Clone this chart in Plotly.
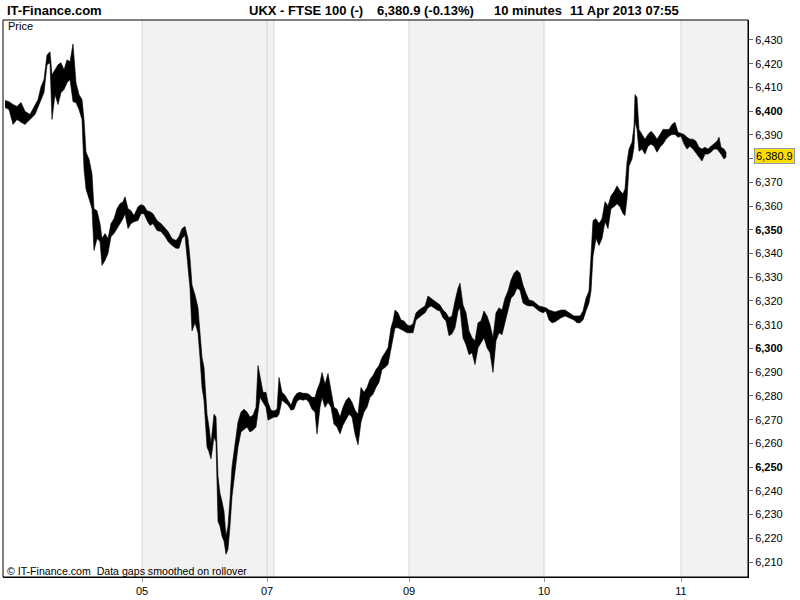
import plotly.graph_objects as go

# ---------------- data (10-minute bars, grouped high/low readings) ----------------
bars = [2, 6, 10, 14, 18, 22, 27, 32, 35, 38, 41, 44, 47, 49, 52, 55, 58, 61, 64, 67, 70, 73, 76, 79, 81, 83, 86, 89, 91, 94,
        97, 99, 102, 105, 108, 111, 114, 117, 120, 122, 125, 128, 131, 135, 138,
        141, 144, 147, 150, 154, 158, 162, 165, 169, 173, 176, 179, 182, 185, 187, 189, 192, 195, 197, 199,
        201, 204, 206, 208, 211, 213, 215, 217, 219, 221, 223, 225, 227, 229, 231, 233, 235, 238, 241, 244,
        247, 250, 253, 255, 257, 260, 263, 265, 268, 271,
        274, 276, 279, 282, 285, 288, 291, 294, 297, 300, 303, 306, 309, 312, 314, 317, 319, 322, 325, 328,
        331, 334, 337, 340, 343, 346, 349, 352, 355, 358, 361, 364, 367, 370, 373, 376, 379, 382, 385, 388,
        390, 392, 395, 398, 401, 404, 407,
        410, 413, 416, 419, 422, 425, 428, 431, 434, 437, 440, 443, 446, 449, 452, 455, 457, 460, 463, 466,
        469, 472, 475, 478, 481, 484, 487, 490, 493, 496, 499, 502, 505, 508, 511, 514, 517, 520, 523, 526,
        530, 536, 540,
        543, 546, 549, 552, 555, 558, 562, 567, 571, 574, 577, 580, 583, 586, 588, 590, 593, 596, 599, 602,
        605, 608, 611, 614, 617, 620, 622, 624, 626, 629, 631, 632, 634, 636, 639, 642, 645, 648, 651, 654,
        657, 660, 663, 666, 669, 672, 675, 678,
        681, 684, 687, 690, 693, 696, 699, 702, 705, 708, 711, 714, 716, 718, 721, 723]

highs = [6404.5, 6404.0, 6402.8, 6402.0, 6403.6, 6399.9, 6398.6, 6402.8, 6404.9, 6410.3, 6413.3, 6423.7, 6425.0, 6415.3,
         6417.4, 6419.5, 6420.4, 6417.4, 6421.6, 6420.8, 6428.3, 6412.0, 6407.0, 6404.9, 6396.5, 6382.7, 6379.8, 6373.5,
         6358.9, 6358.0, 6352.6, 6346.3, 6348.4, 6346.3, 6352.6, 6354.7, 6358.9, 6361.0, 6361.8, 6363.9, 6358.9, 6358.0,
         6356.0, 6359.7, 6360.6,
         6360.1, 6358.0, 6357.6, 6356.8, 6353.9, 6352.6, 6350.5, 6349.3, 6346.3, 6345.5, 6347.2, 6350.5, 6351.4, 6346.3,
         6338.0, 6326.7, 6322.5, 6317.1, 6306.6, 6296.2, 6292.0, 6272.3, 6266.9, 6259.8, 6272.3, 6271.1, 6246.0, 6238.9,
         6235.5, 6231.3, 6220.9, 6225.1, 6236.4, 6250.2, 6256.4, 6262.7, 6269.0, 6273.2, 6274.4, 6273.2, 6271.1, 6271.9,
         6275.2, 6292.8, 6287.8, 6281.5, 6281.5, 6277.3, 6274.0, 6273.6,
         6274.4, 6287.8, 6281.5, 6280.3, 6278.2, 6276.1, 6279.4, 6281.1, 6281.5, 6281.1, 6281.1, 6280.7, 6279.4, 6279.4,
         6282.4, 6285.7, 6289.9, 6284.9, 6289.5, 6281.5, 6275.2, 6274.4, 6271.1, 6275.2, 6278.2, 6279.4, 6277.3, 6274.0,
         6272.3, 6283.6, 6281.5, 6283.6, 6287.0, 6288.6, 6291.1, 6292.8, 6296.2, 6298.2, 6300.3, 6308.7, 6311.6, 6316.2,
         6315.0, 6312.0, 6311.6, 6310.0, 6309.5,
         6310.4, 6315.0, 6316.2, 6317.1, 6317.9, 6322.1, 6321.2, 6320.0, 6319.2, 6318.3, 6316.2, 6315.0, 6312.9, 6313.7,
         6320.0, 6325.4, 6327.5, 6318.3, 6315.0, 6307.4, 6304.5, 6303.3, 6310.8, 6311.6, 6315.8, 6313.7, 6310.0, 6304.5,
         6315.0, 6317.1, 6316.2, 6321.2, 6324.2, 6328.8, 6331.7, 6333.0, 6331.7, 6326.7, 6323.3, 6320.4, 6320.0, 6317.9,
         6317.5,
         6317.1, 6316.2, 6315.8, 6315.4, 6315.8, 6316.2, 6316.2, 6315.0, 6313.7, 6313.7, 6313.7, 6315.8, 6321.2, 6324.2,
         6338.8, 6353.9, 6354.7, 6352.6, 6354.7, 6361.8, 6360.1, 6364.3, 6366.0, 6368.5, 6366.4, 6365.2, 6367.2, 6378.5,
         6384.0, 6386.9, 6393.6, 6407.0, 6405.7, 6392.3, 6390.2, 6388.2, 6390.2, 6391.5, 6390.2, 6388.2, 6390.2, 6392.3,
         6392.3, 6392.3, 6394.4, 6395.3, 6391.1, 6390.7,
         6390.2, 6389.0, 6388.2, 6388.2, 6387.3, 6384.8, 6384.0, 6384.8, 6384.0, 6385.2, 6386.1, 6387.3, 6389.0, 6384.8,
         6384.0, 6382.7]

lows = [6401.5, 6400.7, 6394.4, 6396.5, 6395.3, 6394.4, 6396.5, 6398.6, 6401.5, 6404.9, 6407.8, 6419.5, 6420.4, 6396.5,
        6407.0, 6402.8, 6407.8, 6409.1, 6412.0, 6413.3, 6404.0, 6403.6, 6400.7, 6396.5, 6375.6, 6367.2, 6363.1, 6358.9,
        6341.3, 6346.3, 6345.1, 6335.0, 6337.1, 6340.1, 6347.2, 6348.4, 6350.5, 6352.6, 6354.7, 6356.8, 6350.5, 6352.6,
        6353.4, 6353.9, 6356.8,
        6356.8, 6353.9, 6351.8, 6352.6, 6349.7, 6349.3, 6347.2, 6345.1, 6343.4, 6342.2, 6342.2, 6346.3, 6347.6, 6333.8,
        6325.4, 6307.4, 6310.8, 6306.6, 6296.2, 6283.6, 6278.2, 6258.5, 6256.4, 6253.5, 6262.7, 6260.6, 6227.1, 6225.1,
        6220.9, 6218.8, 6213.3, 6215.4, 6225.1, 6237.6, 6246.0, 6252.2, 6258.5, 6264.8, 6266.0, 6266.9, 6264.8, 6265.6,
        6266.9, 6273.2, 6279.4, 6277.3, 6275.2, 6269.8, 6270.6, 6271.1,
        6271.1, 6272.3, 6278.2, 6277.3, 6276.1, 6274.0, 6274.4, 6277.8, 6278.6, 6278.2, 6278.6, 6277.3, 6274.4, 6273.2,
        6264.0, 6275.2, 6279.4, 6275.2, 6277.3, 6275.2, 6268.1, 6266.9, 6264.0, 6267.7, 6269.8, 6272.3, 6271.1, 6264.0,
        6259.4, 6269.0, 6273.2, 6275.2, 6279.4, 6280.7, 6283.6, 6285.7, 6291.1, 6292.0, 6293.2, 6300.3, 6304.5, 6308.7,
        6308.7, 6307.9, 6307.4, 6306.6, 6306.6,
        6306.6, 6312.0, 6312.9, 6314.1, 6315.0, 6317.1, 6317.9, 6317.1, 6316.2, 6315.8, 6312.9, 6311.6, 6305.4, 6306.2,
        6308.7, 6315.8, 6317.1, 6304.5, 6301.6, 6297.4, 6298.2, 6293.2, 6300.3, 6302.4, 6304.5, 6300.3, 6298.2, 6289.9,
        6303.3, 6306.6, 6305.8, 6310.8, 6315.8, 6321.2, 6322.5, 6325.4, 6324.6, 6319.2, 6318.3, 6317.9, 6317.9, 6315.8,
        6315.0,
        6315.8, 6312.0, 6310.8, 6311.2, 6312.0, 6312.9, 6313.7, 6312.9, 6312.0, 6310.8, 6310.8, 6312.0, 6315.8, 6319.2,
        6324.2, 6338.8, 6346.3, 6343.4, 6346.3, 6353.4, 6350.5, 6358.9, 6359.7, 6361.0, 6359.7, 6356.8, 6356.0, 6363.1,
        6376.9, 6379.8, 6384.8, 6395.7, 6392.3, 6383.1, 6384.0, 6381.9, 6385.2, 6386.1, 6385.2, 6382.7, 6384.8, 6386.1,
        6388.2, 6389.4, 6390.2, 6390.2, 6389.0, 6389.4,
        6386.1, 6384.0, 6385.2, 6384.0, 6382.7, 6380.6, 6379.0, 6381.9, 6381.9, 6382.7, 6384.0, 6384.0, 6383.1, 6381.9,
        6379.8, 6380.6]

day_labels = ['04', '05', '07', '08', '09', '10', '11']
day_start_bars = [0, 139, 264, 271, 406, 541, 678]
last_bar = 745
labelled_days = ['05', '07', '09', '10', '11']
shaded_days = ['05', '07', '09', '11']

y_ticks = list(range(6210, 6431, 10))
last_price = 6380.9
change_pct = -0.13
symbol_text = "UKX - FTSE 100 (-)"
interval_text = "10 minutes"
stamp_text = "11 Apr 2013 07:55"

assert len(bars) == len(highs) == len(lows)

# ---------------- figure ----------------
W, H = 800, 600
L, R, T, B = 3, 52, 20, 19
PW, PH = W - L - R, H - T - B


def px(x):
    return (x - L) / PW


def py(y):
    return (H - B - y) / PH


FONT = "Liberation Sans, Arial, sans-serif"

fig = go.Figure()
fig.add_trace(go.Scatter(
    x=bars + bars[::-1], y=highs + lows[::-1],
    mode='lines', fill='toself', fillcolor='black',
    line=dict(color='black', width=0.6), hoverinfo='skip', showlegend=False))

shapes = []
for i, lab in enumerate(day_labels):
    x0 = day_start_bars[i]
    x1 = day_start_bars[i + 1] if i + 1 < len(day_labels) else last_bar
    if lab in shaded_days:
        shapes.append(dict(type='rect', xref='x', yref='paper', x0=x0, x1=x1, y0=0, y1=1,
                           fillcolor='#f2f2f2', line=dict(width=0), layer='below'))
for i, lab in enumerate(day_labels):
    if i == 0:
        continue
    shapes.append(dict(type='line', xref='x', yref='paper', x0=day_start_bars[i], x1=day_start_bars[i],
                       y0=0, y1=1, line=dict(color='#d6d6d6', width=1), layer='below'))
shapes.append(dict(type='rect', xref='paper', yref='paper', x0=0, x1=1, y0=0, y1=1,
                   line=dict(color='black', width=1), layer='above'))

tickvals_x = [day_start_bars[day_labels.index(d)] for d in labelled_days]
last_tick = round(last_price, -1)
ticktext_y = [("" if v == last_tick else ("<b>%s</b>" if v % 50 == 0 else "%s") % f"{v:,}") for v in y_ticks]

annotations = [
    dict(text="<b>IT-Finance.com</b>", xref='paper', yref='paper', x=px(5), y=py(10),
         xanchor='left', yanchor='middle', showarrow=False, font=dict(family=FONT, size=13, color='black')),
    dict(text="<b>%s</b>" % symbol_text, xref='paper', yref='paper', x=px(247), y=py(10),
         xanchor='left', yanchor='middle', showarrow=False, font=dict(family=FONT, size=13, color='black')),
    dict(text="<b>%s (%.2f%%)</b>" % (f"{last_price:,.1f}", change_pct), xref='paper', yref='paper',
         x=px(375), y=py(10), xanchor='left', yanchor='middle', showarrow=False,
         font=dict(family=FONT, size=13, color='black')),
    dict(text="<b>%s</b>" % interval_text, xref='paper', yref='paper', x=px(492), y=py(10),
         xanchor='left', yanchor='middle', showarrow=False, font=dict(family=FONT, size=13, color='black')),
    dict(text="<b>%s</b>" % stamp_text, xref='paper', yref='paper', x=px(568), y=py(10),
         xanchor='left', yanchor='middle', showarrow=False, font=dict(family=FONT, size=13, color='black')),
    dict(text="Price", xref='paper', yref='paper', x=px(6), y=py(26),
         xanchor='left', yanchor='middle', showarrow=False, font=dict(family=FONT, size=11, color='black')),
    dict(text="© IT-Finance.com&nbsp;&nbsp;Data gaps smoothed on rollover", xref='paper', yref='paper',
         x=px(5), y=py(575), xanchor='left', yanchor='middle', showarrow=False,
         font=dict(family=FONT, size=10.6, color='black')),
    dict(text=f"{last_price:,.1f}", xref='paper', yref='y', x=1, y=last_price, xshift=6,
         xanchor='left', yanchor='middle', showarrow=False, bgcolor='#ffdd00',
         bordercolor='#8a9bb0', borderwidth=1, borderpad=1,
         font=dict(family=FONT, size=11, color='black')),
]

fig.update_layout(
    width=W, height=H, autosize=False,
    margin=dict(l=L, r=R, t=T, b=B, pad=0),
    paper_bgcolor='white', plot_bgcolor='white', showlegend=False,
    shapes=shapes, annotations=annotations,
    xaxis=dict(range=[0, last_bar], tickvals=tickvals_x, ticktext=labelled_days,
               ticks='outside', ticklen=4, tickcolor='#999999', showgrid=False, zeroline=False,
               showline=True, linecolor='black', linewidth=1,
               tickfont=dict(family=FONT, size=11, color='black'), fixedrange=True),
    yaxis=dict(side='right', range=[6203.7, 6438.4], tickvals=y_ticks, ticktext=ticktext_y,
               ticks='outside', ticklen=4, tickcolor='#666666', showgrid=False, zeroline=False,
               showline=True, linecolor='black', linewidth=1,
               tickfont=dict(family=FONT, size=11, color='black'), fixedrange=True),
)

fig.write_html("out.html", config={'displayModeBar': False})

# remove the browser's default page margin so the figure starts at the window's corner
with open("out.html", "r", encoding="utf-8") as f:
    html = f.read()
html = html.replace("<head>", "<head><style>html,body{margin:0;padding:0;overflow:hidden;}</style>", 1)
with open("out.html", "w", encoding="utf-8") as f:
    f.write(html)
